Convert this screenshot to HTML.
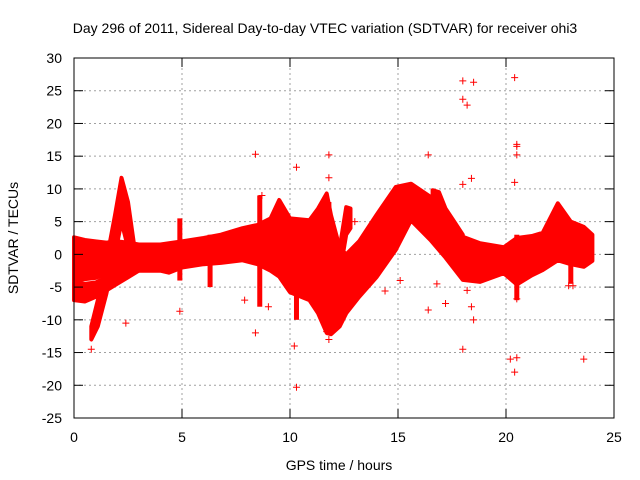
<!DOCTYPE html>
<html><head><meta charset="utf-8"><style>
body{margin:0;background:#fff;}
svg{display:block;font-family:"Liberation Sans",sans-serif;}
</style></head><body>
<svg width="640" height="480">
<rect width="640" height="480" fill="#fff"/>
<g id="grid"></g>
<g id="bands"></g>
<g id="pts"></g>
<rect x="74" y="58" width="540" height="360" fill="none" stroke="#000" stroke-width="1"/>
<g id="ticks"></g>
<text x="325" y="33" font-size="14" text-anchor="middle">Day 296 of 2011, Sidereal Day-to-day VTEC variation (SDTVAR) for receiver ohi3</text>
<text x="339" y="470" font-size="14" text-anchor="middle">GPS time / hours</text>
<text transform="translate(18,238) rotate(-90)" font-size="14" text-anchor="middle">SDTVAR / TECUs</text>
</svg>
<script>
const xTicks=[0,5,10,15,20,25];
const yTicks=[30,25,20,15,10,5,0,-5,-10,-15,-20,-25];
// main band envelope
const mainT=[0,0.5,1,1.5,2,2.5,3,4,4.4,5,6,6.8,7.8,8.5,9.1,9.5,10,10.9,11.3,11.7,11.9,12.3,12.6,13.2,14,14.9,15.6,16.5,17.2,18,18.8,19.9,20.5,21.2,21.7,22.4,23,23.6,24];
const mainLo=[-4,-3.8,-3.6,-3,-2.5,-2.5,-2.5,-2.5,-2.8,-2,-1.5,-1.3,-0.9,-1.5,-2.5,-3.4,-5.8,-7,-9,-12,-12.2,-11,-9,-6.5,-3.5,0.7,5.2,2.2,-0.5,-3.9,-4.2,-2.9,-4.6,-3.2,-2.4,-0.9,-1.5,-1.9,-1];
const mainHi=[2.6,2.2,2,1.8,2,1.8,1.5,1.5,1.7,2,2.5,3,4,4.5,5.5,8.3,5.5,5.2,7,9.3,6,1,0,2,6,10.3,10.8,8.8,5,2.7,1.7,1.1,2.5,2.8,3.3,7.8,5,4.2,3];
// lower early track
const lowT=[0,0.5,1,1.5,2,2.5,3];
const lowLo=[-7,-7.2,-6.5,-5.5,-4.5,-3.5,-2.5];
const lowHi=[-4.2,-4.5,-4.3,-3.5,-2.5,-1.5,-0.5];
// spike near 2h
const spikeT=[0.8,1.1,1.5,1.9,2.2,2.5,2.8];
const spikeLo=[-13,-11,-6,0,5,1,-2];
const spikeHi=[-11,-7,-1,6,11.7,8,1];
// steep rising band near 12h
const riseT=[11.8,12.1,12.4,12.6,12.8];
const riseLo=[-11,-6,-1,3,4];
const riseHi=[-9,-3,3,7.2,7];
// finger near 16-17h
const finT=[16.6,16.9,17.2,17.6,18];
const finLo=[5,4,2.5,1.5,0.5];
const finHi=[9.8,9.5,7,5,3];
// vertical scatter columns
const colT=[4.9,6.3,8.6,10.3,11.8,20.5,23.0];
const colLo=[-4,-5,-8,-10,-11,-7,-4.5];
const colHi=[5.5,3,9,5,8,3,5];
// outliers
const outT=[0.8,2.4,4.9,7.9,8.4,8.4,8.7,10.2,10.3,10.3,11.8,11.8,11.8,11.7,16.4,16.4,17.2,18.0,18.0,18.2,18.5,18.0,18.4,18.5,18.2,18.0,18.4,20.4,20.5,20.5,20.5,20.4,20.2,20.5,20.4,20.5,23.6,22.9,23.1,15.1,14.4,16.8,9.0,12.2,13.0];
const outV=[-14.5,-10.5,-8.7,-7,15.3,-12,9,-14,13.3,-20.3,15.2,11.7,-13,-11.8,15.2,-8.5,-7.5,26.5,23.7,22.8,26.3,-14.5,-8,-10,-5.5,10.7,11.6,27,16.8,16.5,15.2,11,-16,-15.8,-18,-6.8,-16,-4.8,-4.8,-4,-5.6,-4.5,-8,-7,5];

const NS='http://www.w3.org/2000/svg';
function X(t){return 74+t*21.6;}
function Y(v){return 58+(30-v)*360/55;}
function mk(tag,attrs,parent){const e=document.createElementNS(NS,tag);for(const k in attrs)e.setAttribute(k,attrs[k]);parent.appendChild(e);return e;}
const grid=document.getElementById('grid'),ticks=document.getElementById('ticks');
xTicks.forEach(t=>{
  if(t>0&&t<25){const l=mk('line',{x1:X(t),x2:X(t),y1:58,y2:418,stroke:'#a0a0a0','stroke-dasharray':'2,3'},grid);
  
  }
  mk('line',{x1:X(t),x2:X(t),y1:418,y2:409,stroke:'#000'},ticks);
  mk('line',{x1:X(t),x2:X(t),y1:58,y2:67,stroke:'#000'},ticks);
  const tx=mk('text',{x:X(t),y:442,'font-size':14,'text-anchor':'middle'},ticks);tx.textContent=t;
  
  
});
yTicks.forEach(v=>{
  if(v<30&&v>-25){const l=mk('line',{x1:74,x2:614,y1:Y(v),y2:Y(v),stroke:'#a0a0a0','stroke-dasharray':'2,3'},grid);
  
  }
  mk('line',{x1:74,x2:83,y1:Y(v),y2:Y(v),stroke:'#000'},ticks);
  mk('line',{x1:614,x2:605,y1:Y(v),y2:Y(v),stroke:'#000'},ticks);
  const tx=mk('text',{x:62,y:Y(v)+5,'font-size':14,'text-anchor':'end'},ticks);tx.textContent=v;
  
  
});
const bands=document.getElementById('bands');
function band(T,L,H,name){
  let d='M'+T.map((t,i)=>X(t).toFixed(1)+','+Y(H[i]).toFixed(1)).join('L');
  for(let i=T.length-1;i>=0;i--)d+='L'+X(T[i]).toFixed(1)+','+Y(L[i]).toFixed(1);
  const p=mk('path',{d:d+'Z',fill:'#ff0000',stroke:'#ff0000','stroke-width':4,'stroke-linejoin':'round'},bands);
  
  
}
band(mainT,mainLo,mainHi,'main-band');
band(lowT,lowLo,lowHi,'lower-track');
band(spikeT,spikeLo,spikeHi,'spike-band');
band(riseT,riseLo,riseHi,'rising-band');
band(finT,finLo,finHi,'finger-band');
colT.forEach((t,i)=>{
  const r=mk('rect',{x:X(t)-2.5,y:Y(colHi[i]),width:5,height:Y(colLo[i])-Y(colHi[i]),fill:'#ff0000'},bands);
  
  
});
const pts=document.getElementById('pts');
outT.forEach((t,i)=>{
  const x=X(t),y=Y(outV[i]);
  const p=mk('path',{d:`M${x-3.5},${y}H${x+3.5}M${x},${y-3.5}V${y+3.5}`,stroke:'#ff0000','stroke-width':1},pts);
  
  
});
</script>
</body></html>
